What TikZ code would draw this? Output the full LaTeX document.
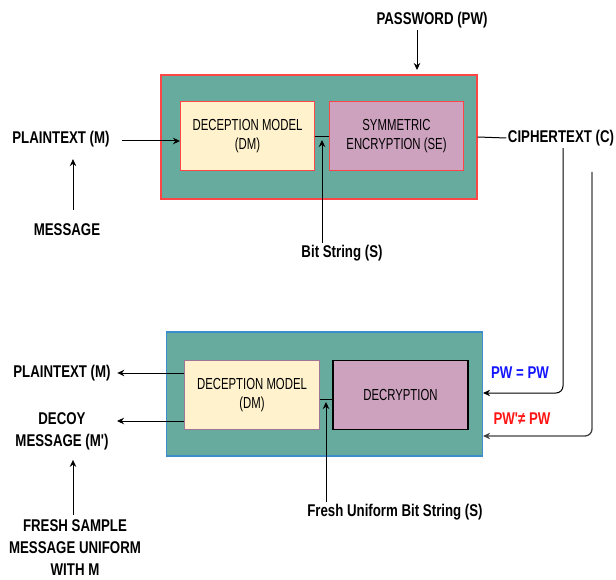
\documentclass[tikz,border=0pt]{standalone}
\usepackage{fontspec}
\setmainfont{Liberation Sans}
\usepackage{xcolor}
\usepackage{tikz}
\usetikzlibrary{positioning,arrows.meta,calc}

\definecolor{tealbg}{HTML}{67AB9F}
\definecolor{dmyellow}{HTML}{FFF2CC}
\definecolor{sepink}{HTML}{CDA2BE}
\definecolor{boxred}{HTML}{FF4646}
\definecolor{boxblue}{HTML}{3C8DCB}
\definecolor{dmpurple}{HTML}{A07595}
\definecolor{pwblue}{HTML}{1414FF}
\definecolor{pwred}{HTML}{FF1414}

\tikzset{
  lbl/.style={font=\fontsize{17}{22}\selectfont\bfseries, align=center, xscale=0.78, inner sep=2pt},
  outerbox/.style={draw, line width=1.2pt, fill=tealbg, minimum width=316pt, minimum height=124pt},
  innerbox/.style={draw, line width=1pt, xscale=0.71, minimum width=190pt, minimum height=69pt,
    font=\fontsize{16}{19}\selectfont, align=center},
  arr/.style={-{Stealth[length=7pt,width=6.5pt]}, line width=1pt}
}

\begin{document}
\begin{tikzpicture}[x=1pt,y=-1pt]
	\useasboundingbox (0,0) rectangle (616,580);

	% encryption
	\node[outerbox, draw=boxred] (enc) at (319,137) {};
	\node[innerbox, draw=boxred, fill=dmyellow] (dm1) at (247.5,136.5) {DECEPTION MODEL\\(DM)};
	\node[innerbox, draw=boxred, fill=sepink] (se) at (396.5,136.5) {SYMMETRIC\\ENCRYPTION (SE)};
	\draw[line width=1pt] (dm1.east) -- (se.west);

	\node[lbl] (pw) at (432,20) {PASSWORD (PW)};
	\node[lbl] (pt1) at (61,139) {PLAINTEXT (M)};
	\node[lbl] (msg) at (67,230) {MESSAGE};
	\node[lbl] (bits) at (342,253) {Bit String (S)};
	\node[lbl] (ct) at (561,138) {CIPHERTEXT (C)};

	\coordinate (pwin) at (417,70);
	\coordinate (ptin) at (180,141);
	\coordinate (mx) at (73,0);
	\coordinate (bsplit) at (322,137);
	\draw[arr] (pw.south -| pwin) -- (pwin);
	\draw[arr, shorten <=11pt] (pt1.east |- ptin) -- (ptin);
	\draw[arr, shorten <=12pt, shorten >=10pt] (msg.north -| mx) -- (pt1.south -| mx);
	\draw[arr, shorten >=3pt] (bits.north -| bsplit) -- (bsplit);
	\draw[line width=1pt] (enc.east) -- (ct.west);

	% decryption
	\node[outerbox, draw=boxblue] (decr) at (324.5,394) {};
	\node[innerbox, draw=dmpurple, fill=dmyellow] (dm2) at (252,395) {DECEPTION MODEL\\(DM)};
	\node[innerbox, draw=black, line width=1.3pt, fill=sepink] (dec) at (400.5,395) {DECRYPTION};
	\coordinate (fsplit) at (326,399);
	\draw[line width=1pt] (dm2.east |- fsplit) -- (dec.west |- fsplit);

	\node[lbl] (pt2) at (62,373) {PLAINTEXT (M)};
	\node[lbl] (decoy) at (62,431) {DECOY\\MESSAGE (M\textquotesingle)};
	\node[lbl] (fresh) at (75,548) {FRESH SAMPLE\\MESSAGE UNIFORM\\WITH M};
	\node[lbl] (fub) at (395,512) {Fresh Uniform Bit String (S)};
	\node[lbl, text=pwblue] (eq) at (520,373) {PW = PW};
	\node[lbl, text=pwred] (neq) at (522,419) {PW\textquotesingle≠ PW};

	\coordinate (dcy) at (117,421);
	\coordinate (mx2) at (73,0);
	\draw[arr, shorten >=5pt] (dm2.west |- pt2) -- (pt2.east);
	\draw[arr] (dm2.west |- dcy) -- (dcy);
	\draw[arr, shorten <=3pt, shorten >=8pt] (fresh.north -| mx2) -- (decoy.south -| mx2);
	\draw[arr, shorten >=3pt] (fub.north -| fsplit) -- (fsplit);

	% password check paths
	\coordinate (eqturn) at (563,393);
	\coordinate (neqtop) at (592,172);
	\coordinate (neqturn) at (592,436);
	\draw[arr, rounded corners=7pt] (ct.south -| eqturn) -- (eqturn) -- (eqturn -| decr.east);
	\draw[arr, black!75, line width=1.3pt, rounded corners=7pt] (neqtop) -- (neqturn) -- (neqturn -| decr.east);
\end{tikzpicture}
\end{document}
